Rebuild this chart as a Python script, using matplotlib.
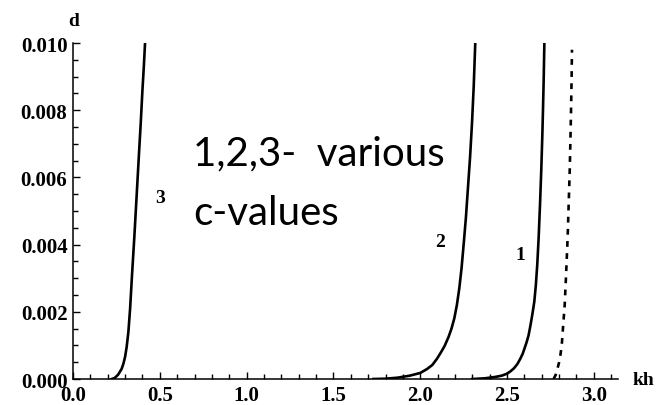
import matplotlib
matplotlib.use("Agg")
import matplotlib.pyplot as plt
from matplotlib.ticker import MultipleLocator, FormatStrFormatter

kh_3 = [0.223, 0.24, 0.26, 0.28, 0.29, 0.30, 0.309, 0.319, 0.329, 0.34, 0.353,
        0.366, 0.38, 0.39, 0.40, 0.408, 0.415]
d_3 = [0.0, 0.00003, 0.00013, 0.0003, 0.00045, 0.00066, 0.00095, 0.0014, 0.0021, 0.0031,
       0.0042, 0.0054, 0.0067, 0.0076, 0.0086, 0.0093, 0.0100]

kh_2 = [1.73, 1.80, 1.87, 1.94, 2.00, 2.04, 2.07, 2.096, 2.12, 2.14, 2.163, 2.18, 2.196,
        2.211, 2.225, 2.238, 2.25, 2.263, 2.275, 2.287, 2.298, 2.308, 2.317]
d_2 = [0.0, 0.00001, 0.00004, 0.0001, 0.00018, 0.0003, 0.00042, 0.0006, 0.0008, 0.00098,
       0.00125, 0.0015, 0.0018, 0.0022, 0.0027, 0.0033, 0.0040, 0.0048, 0.0057, 0.0066,
       0.0076, 0.0087, 0.0100]

kh_1 = [2.30, 2.37, 2.43, 2.47, 2.50, 2.52, 2.54, 2.56, 2.576, 2.59, 2.60, 2.613, 2.624,
        2.635, 2.645, 2.657, 2.666, 2.674, 2.682, 2.69, 2.697, 2.703, 2.707, 2.711, 2.715]
d_1 = [0.0, 0.00002, 0.00006, 0.0001, 0.00016, 0.00023, 0.00032, 0.00045, 0.0006, 0.00075,
       0.0009, 0.0011, 0.0013, 0.0016, 0.0019, 0.0023, 0.0028, 0.0034, 0.0042, 0.0052,
       0.0062, 0.0072, 0.0080, 0.0089, 0.0100]

kh_lim = [2.768, 2.78, 2.79, 2.80, 2.807, 2.815, 2.822, 2.832, 2.84, 2.849, 2.855, 2.861,
          2.865, 2.869, 2.872, 2.874]
d_lim = [0.0, 0.00012, 0.0003, 0.0005, 0.0007, 0.001, 0.0015, 0.0022, 0.0031, 0.0042,
         0.0052, 0.0062, 0.0071, 0.0081, 0.009, 0.0098]

# curve number labels (kh, d, text)
curve_labels = [(0.50, 0.0054, "3"), (2.115, 0.0041, "2"), (2.576, 0.0037, "1")]

serif_bold = dict(family="Liberation Serif", weight="bold")

fig = plt.figure(figsize=(6.6, 4.06), dpi=100)
ax = fig.add_axes([0.1106, 0.064, 0.826, 0.8276])

for kh, d in [(kh_3, d_3), (kh_2, d_2), (kh_1, d_1)]:
    ax.plot(kh, d, color="black", lw=1.9, solid_joinstyle="round")
ax.plot(kh_lim, d_lim, color="black", lw=1.9, dashes=(2.2, 2.4))

for x, y, s in curve_labels:
    ax.text(x, y, s, ha="center", va="center", fontsize=14, **serif_bold)

ax.set_xlim(0, 3.14)
ax.set_ylim(0, 0.010)

ax.spines["top"].set_visible(False)
ax.spines["right"].set_visible(False)
for side in ("left", "bottom"):
    ax.spines[side].set_linewidth(1.1)

ax.xaxis.set_major_locator(MultipleLocator(0.5))
ax.xaxis.set_minor_locator(MultipleLocator(0.1))
ax.yaxis.set_major_locator(MultipleLocator(0.002))
ax.yaxis.set_minor_locator(MultipleLocator(0.0005))
ax.xaxis.set_major_formatter(FormatStrFormatter("%.1f"))
ax.yaxis.set_major_formatter(FormatStrFormatter("%.3f"))

ax.tick_params(which="both", direction="in", top=False, right=False, width=1)
ax.tick_params(which="major", length=5)
ax.tick_params(which="minor", length=3.5)
ax.tick_params(axis="x", pad=4.5)
ax.tick_params(axis="y", pad=4)
for lab in ax.get_xticklabels() + ax.get_yticklabels():
    lab.set_fontfamily("Liberation Serif")
    lab.set_fontweight("bold")
    lab.set_fontsize(15)

# axis names sit at the ends of the axes
fig.text(74 / 660, 1 - 22 / 406, "d", ha="center", va="center", fontsize=14, **serif_bold)
fig.text(643 / 660, 1 - 381 / 406, "kh", ha="center", va="center", fontsize=14, **serif_bold)

# annotation
fig.text(193 / 660, 1 - 165 / 406, "1,2,3-  various", ha="left", va="baseline",
         fontsize=29, family="Lato")
fig.text(193 / 660, 1 - 225 / 406, "c-values", ha="left", va="baseline",
         fontsize=29, family="Lato")

fig.savefig("out.png", dpi=100)
